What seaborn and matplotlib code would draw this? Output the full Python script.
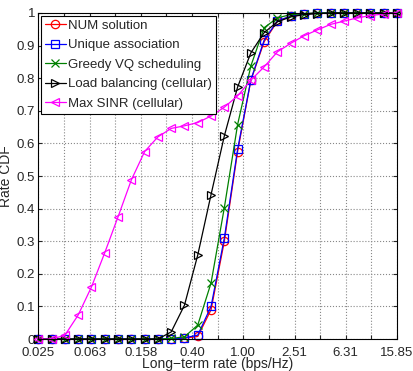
"""
Rate CDF of long-term user rates for several association / scheduling schemes.
"""
import numpy as np
import pandas as pd
import seaborn as sns
import matplotlib.pyplot as plt

# 28 rate points, log-spaced from 0.025 to 15.85 bps/Hz
rate = np.logspace(-1.6, 1.2, 28)

num_solution = [0] * 11 + [0.003, 0.008, 0.09, 0.30, 0.575, 0.794, 0.912,
                           0.975, 0.99, 0.997, 1, 1, 1, 1, 1, 1, 1]
unique_assoc = [0] * 11 + [0.004, 0.012, 0.10, 0.31, 0.582, 0.795, 0.917,
                           0.976, 0.99, 0.997, 1, 1, 1, 1, 1, 1, 1]
greedy_vq = [0] * 10 + [0.002, 0.007, 0.043, 0.172, 0.403, 0.658, 0.838,
                        0.955, 0.985, 0.995, 0.998, 1, 1, 1, 1, 1, 1, 1]
load_balancing = [0] * 10 + [0.022, 0.104, 0.258, 0.443, 0.623, 0.773, 0.878,
                             0.94, 0.973, 0.988, 0.995, 0.998, 1, 1, 1, 1, 1, 1]
max_sinr = [0, 0, 0.012, 0.074, 0.16, 0.265, 0.375, 0.488, 0.575, 0.62,
            0.646, 0.654, 0.664, 0.684, 0.711, 0.746, 0.794, 0.835, 0.881,
            0.907, 0.93, 0.948, 0.965, 0.975, 0.985, 0.992, 0.997, 1.0]

labels = ['NUM solution', 'Unique association', 'Greedy VQ scheduling',
          'Load balancing (cellular)', 'Max SINR (cellular)']
series = [num_solution, unique_assoc, greedy_vq, load_balancing, max_sinr]
colors = ['#ff0000', '#0000ff', '#008000', '#000000', '#ff00ff']
markers = ['o', 's', 'x', '>', '<']

xtick_labels = ['0.025', '0.063', '0.158', '0.40', '1.00', '2.51', '6.31', '15.85']

sns.set_style('ticks')
plt.rcParams['font.family'] = ['Liberation Sans', 'DejaVu Sans']
plt.rcParams['font.size'] = 8

fig = plt.figure(figsize=(4.14, 3.71), dpi=100)
ax = fig.add_axes([0.092, 0.086, 0.867, 0.879])

for lab, vals, col, mk in zip(labels, series, colors, markers):
    df = pd.DataFrame({'rate': rate, 'cdf': vals})
    sns.lineplot(data=df, x='rate', y='cdf', ax=ax, color=col, marker=mk,
                 markersize=6, markerfacecolor='none', markeredgecolor=col,
                 markeredgewidth=0.9, linewidth=0.9, label=lab, clip_on=False)

ax.set_xscale('log')
ax.set_xlim(0.025, 15.85)
ax.set_ylim(0, 1)

# grid every 0.2 decade, label every other one
xt = 10 ** (-1.6 + 0.2 * np.arange(15))
ax.set_xticks(xt)
ax.set_xticklabels([xtick_labels[i // 2] if i % 2 == 0 else '' for i in range(15)])
ax.minorticks_off()
yt = np.round(np.arange(0, 1.01, 0.1), 1)
ax.set_yticks(yt)
ax.set_yticklabels(['0'] + ['%.1f' % v for v in yt[1:-1]] + ['1'])

ax.tick_params(direction='in', top=True, right=True, length=3, labelsize=9.5,
               pad=2)
ax.tick_params(axis='x', pad=5.5)
ax.grid(True, linestyle=':', color='#888888', linewidth=0.8)
for sp in ax.spines.values():
    sp.set_color('black')
    sp.set_linewidth(0.8)

ax.set_xlabel('Long\u2212term rate (bps/Hz)', fontsize=10, labelpad=-1)
ax.set_ylabel('Rate CDF', fontsize=10, labelpad=3)

leg = ax.legend(loc='upper left', fontsize=9.5, frameon=True, fancybox=False,
                framealpha=1, edgecolor='black', handlelength=1.6,
                handletextpad=0.2, labelspacing=0.55, borderaxespad=0.2,
                borderpad=0.3)
leg.get_frame().set_linewidth(0.8)
leg.set_zorder(5)

plt.savefig('out.png', dpi=100)
